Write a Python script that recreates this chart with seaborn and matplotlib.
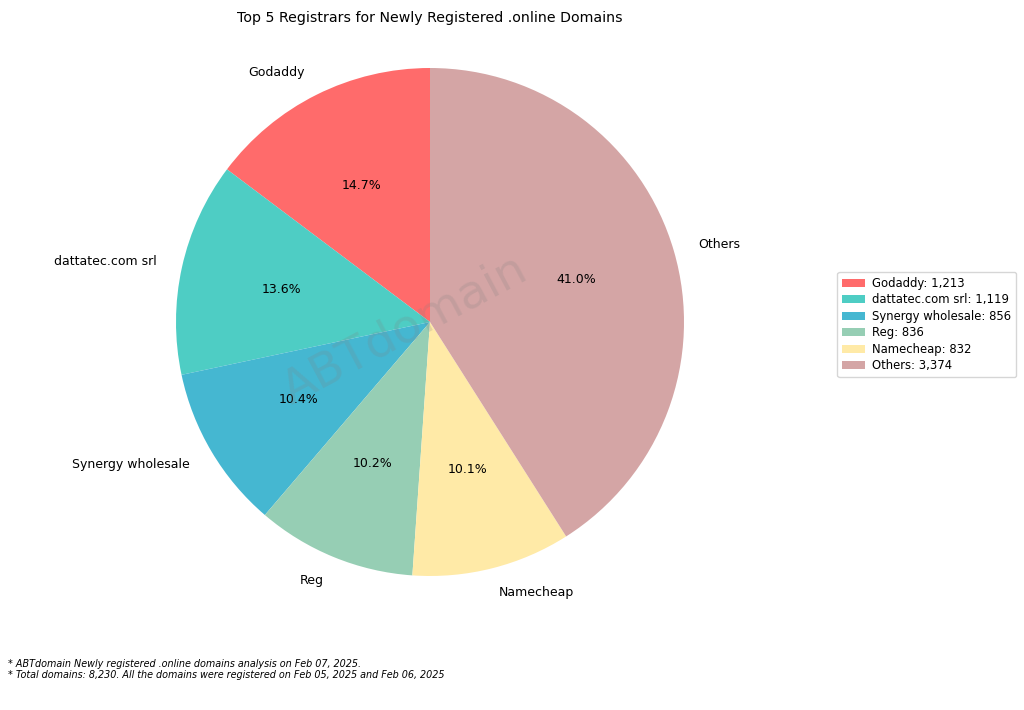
import matplotlib
matplotlib.use("Agg")
import matplotlib.pyplot as plt
import seaborn as sns

sns.set_theme(style="white")
plt.rcParams['font.family'] = ['DejaVu Sans']
plt.rcParams['text.color'] = 'black'

registrars = ["Godaddy", "dattatec.com srl", "Synergy wholesale", "Reg", "Namecheap", "Others"]
counts = [1213, 1119, 856, 836, 832, 3374]
colors = ["#FF6B6B", "#4ECDC4", "#45B7D1", "#96CEB4", "#FFEAA7", "#D4A5A5"]

W, H = 1024, 710
cx, cy, r = 430, 322, 254
side = 2 * r * 1.25
fig = plt.figure(figsize=(10.24, 7.1), dpi=100)
ax = fig.add_axes([(cx - side / 2) / W, 1 - (cy + side / 2) / H, side / W, side / H])
wedges, texts, autotexts = ax.pie(counts, labels=registrars, colors=colors, autopct="%1.1f%%",
                                  startangle=90, labeldistance=1.1, pctdistance=0.6,
                                  wedgeprops={"linewidth": 0},
                                  textprops={"fontsize": 9, "color": "black"})
ax.set_xlim(-1.25, 1.25)
ax.set_ylim(-1.25, 1.25)
ax.set_aspect("equal")
ax.text(-0.1, -0.03, "ABTdomain", fontsize=34, color="gray", alpha=0.2, rotation=28,
        ha="center", va="center")
fig.text(0.42, 0.985, "Top 5 Registrars for Newly Registered .online Domains",
         ha="center", va="top", fontsize=10.2, color="black")
ax.legend(wedges, [f"{r}: {c:,}" for r, c in zip(registrars, counts)],
          loc="upper left", bbox_to_anchor=(0.812, 0.625), bbox_transform=fig.transFigure,
          fontsize=8.4, frameon=True, handlelength=2, borderpad=0.4, labelspacing=0.3,
          handletextpad=0.6, labelcolor="black")
fig.text(0.008, 0.057, "* ABTdomain Newly registered .online domains analysis on Feb 07, 2025.\n"
         "* Total domains: 8,230. All the domains were registered on Feb 05, 2025 and Feb 06, 2025",
         fontsize=6.9, style="italic", va="center", linespacing=1.1, color="black")
fig.savefig("out.png", dpi=100)
